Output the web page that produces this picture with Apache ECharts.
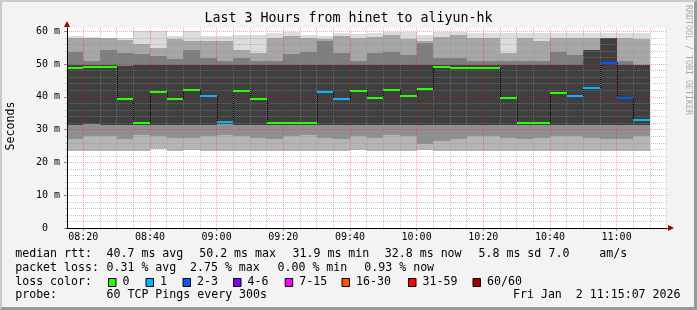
<!DOCTYPE html>
<html><head><meta charset="utf-8">
<script src="https://cdn.jsdelivr.net/npm/echarts@6/dist/echarts.min.js"></script>
<style>
html,body{margin:0;padding:0;background:#f3f3f3;}
#wrap{position:relative;width:697px;height:310px;background:#f3f3f3;}
#chart{position:absolute;left:0;top:0;width:697px;height:310px;}
#frame{position:absolute;left:0;top:0;width:697px;height:310px;box-sizing:border-box;border-top:2px solid #cbcbcb;border-left:2px solid #cbcbcb;border-right:3px solid #999;border-bottom:3px solid #999;pointer-events:none;}
</style></head><body>
<div id="wrap"><div id="chart"></div><div id="frame"></div></div>
<script>
// ---------------- data ----------------
const titleText = 'Last 3 Hours from hinet to aliyun-hk';
const timeRange = ['08:15:07', '11:15:07'];
const xTickLabels = ['08:20','08:40','09:00','09:20','09:40','10:00','10:20','10:40','11:00'];
const yTickValues = [0, 10, 20, 30, 40, 50, 60];
const yMax = 61;
const binMinutes = 5;
const binEnds = ['08:20','08:25','08:30','08:35','08:40','08:45','08:50','08:55',
  '09:00','09:05','09:10','09:15','09:20','09:25','09:30','09:35','09:40','09:45','09:50','09:55',
  '10:00','10:05','10:10','10:15','10:20','10:25','10:30','10:35','10:40','10:45','10:50','10:55',
  '11:00','11:05','11:10'];
const medianRtt = [48.7,49.1,49.1,39.3,32.1,41.5,39.3,42.0,40.2,32.3,41.8,39.3,31.9,31.9,32.1,41.5,39.3,41.8,39.6,42.0,
  40.2,42.4,49.1,48.7,48.7,48.7,39.6,32.1,32.1,41.2,40.2,42.7,50.2,39.6,32.8];
const lostPings = [0,0,0,0,0,0,0,0,1,1,0,0,0,0,0,1,1,0,0,0,0,0,0,0,0,0,0,0,0,0,1,1,2,2,1];
// smoke envelope per bin (ms), band edges from lowest to highest ping quantile
const smokeBot = [23.5,23.5,23.6,23.5,23.6,24.0,23.6,23.8,23.6,23.6,23.5,23.6,23.6,23.6,23.4,23.6,23.5,23.8,23.5,23.6,
  23.6,23.8,23.6,23.6,23.6,23.6,23.6,23.6,23.6,23.6,23.6,23.6,23.5,23.6,23.6];
const smokeLq  = [27.0,28.0,28.0,27.0,28.5,28.0,27.5,27.5,28.0,28.5,28.0,27.5,27.0,28.0,28.5,27.5,27.0,28.0,27.5,28.5,
  28.0,25.5,26.5,27.0,28.0,28.0,27.5,27.0,27.5,28.0,28.0,27.5,27.0,27.0,28.0];
const smokeDlo = [31.5,31.8,31.5,31.5,31.5,31.5,31.5,31.5,31.5,31.8,31.5,31.5,31.5,31.5,31.5,31.5,31.5,31.5,31.5,31.5,
  31.5,31.5,31.5,31.5,31.5,31.5,31.5,31.5,31.5,31.5,31.5,31.5,31.5,31.5,31.5];
const smokeDhi = [49.7,49.7,49.7,49.5,49.8,49.8,49.8,49.8,49.8,49.8,49.8,49.8,49.8,49.8,49.8,49.8,49.8,49.8,49.8,49.8,
  49.8,49.8,49.8,49.8,49.8,49.8,49.8,49.8,49.8,49.8,49.8,54.3,57.9,49.8,49.8];
const smokeUq  = [53.8,51.0,54.3,53.3,53.0,52.5,51.5,54.3,52.0,51.0,52.0,51.0,51.0,53.0,53.8,57.0,53.3,51.0,53.3,53.8,
  52.8,56.5,51.8,51.8,51.0,51.0,51.0,51.0,51.0,53.8,52.8,54.3,57.9,50.8,49.8];
const smokeTop = [57.8,57.8,57.8,57.4,56.0,55.0,57.5,57.0,57.0,57.0,54.3,53.5,57.9,58.5,58.0,57.5,58.5,58.0,58.4,58.8,
  57.5,56.9,58.4,58.8,57.9,57.9,53.3,58.0,57.0,57.9,57.9,57.9,57.9,57.9,57.5];
const smokeCap = [58.5,58.2,58.0,58.0,60.0,60.0,58.5,60.0,58.5,58.5,59.0,59.0,59.5,59.8,59.0,58.5,59.5,59.2,59.5,59.8,
  59.8,59.0,59.8,59.8,59.5,59.5,59.5,59.5,59.5,59.5,59.5,59.5,59.5,59.5,59.5];
const lossUpper  = [0, 1, 3, 6, 15, 30, 59, 60];
const lossLabels = ['0','1','2-3','4-6','7-15','16-30','31-59','60/60'];
const rttNames  = ['avg','max','min','now','sd'];
const rttValues = [40.7, 50.2, 31.9, 32.8, 5.8];
const amPerS = 7.0;
const lossNames  = ['avg','max','min','now'];
const lossValues = [0.31, 2.75, 0.00, 0.93];
const probeText = '60 TCP Pings every 300s';
const dateText = 'Fri Jan  2 11:15:07 2026';

// ---------------- styles ----------------
const lossColors = ['#26ff00','#00b8ff','#0059ff','#7e00ff','#ff00ff','#ff5500','#ff0000','#a00000'];
const smokeColors = ['#b5b5b5','#8f8f8f','#3f3f3f','#7e7e7e','#a7a7a7','#dcdcdc'];
const MONO = 'DejaVu Sans Mono';

function toMin(s){ const p = s.split(':').map(Number); return p[0]*60 + p[1] + (p[2]||0)/60; }
function fmtTime(v){ const h = Math.floor(v/60), m = Math.round(v - h*60); return (h<10?'0':'')+h+':'+(m<10?'0':'')+m; }
function lossIndex(n){ for (let k=0;k<lossUpper.length;k++) if (n <= lossUpper[k]) return k; return lossUpper.length-1; }

const xMin = toMin(timeRange[0]), xMax = toMin(timeRange[1]);
const majorX = xTickLabels.map(toMin);
const minorX = [];
for (let t = majorX[0]; t <= xMax; t += binMinutes) { if (!majorX.some(m => Math.abs(m-t) < 1e-6)) minorX.push(t); }
const minorY = [];
for (let v = 2; v < 60; v += 2) { if (v % 10 !== 0) minorY.push(v); }

const smokeData = binEnds.map((t,i) => [toMin(t)-binMinutes, toMin(t), smokeBot[i], smokeLq[i], smokeDlo[i], smokeDhi[i], smokeUq[i], smokeTop[i], smokeCap[i]]);
const medianData = binEnds.map((t,i) => [toMin(t)-binMinutes, toMin(t), medianRtt[i], lostPings[i], i>0 ? medianRtt[i-1] : medianRtt[i]]);

function csRect(params){ const c = params.coordSys; return {x:c.x, y:c.y, width:c.width, height:c.height}; }

function renderSmoke(params, api){
  const x0 = api.value(0), x1 = api.value(1);
  const lv = [2,3,4,5,6,7,8].map(k => api.value(k));
  const children = [];
  for (let k=0;k<6;k++){
    const a = api.coord([x0, lv[k]]), b = api.coord([x1, lv[k+1]]);
    const xa = Math.round(a[0]), xb = Math.round(b[0]);
    const ya = Math.round(a[1]), yb = Math.round(b[1]);
    const r = echarts.graphic.clipRectByRect({x:xa, y:yb, width:xb-xa, height:ya-yb}, csRect(params));
    if (r && r.height > 0) children.push({type:'rect', shape:r, style:{fill:smokeColors[k]}});
  }
  return {type:'group', children};
}
function renderMedian(params, api){
  const x0 = api.value(0), x1 = api.value(1), m = api.value(2), loss = api.value(3), prev = api.value(4);
  const c = params.coordSys;
  const a = api.coord([x0, m]), b = api.coord([x1, m]);
  const left = Math.max(Math.round(a[0]), c.x), right = Math.min(Math.round(b[0]), c.x + c.width);
  const children = [];
  if (params.dataIndex > 0 && a[0] >= c.x) {
    const p = api.coord([x0, prev]);
    const xl = Math.round(a[0]) + 0.5;
    children.push({type:'line', shape:{x1:xl, y1:Math.round(p[1]), x2:xl, y2:Math.round(a[1])},
      style:{stroke:'#000', lineWidth:1, lineDash:[1,1]}});
  }
  children.push({type:'rect', shape:{x:left, y:Math.round(a[1])-1, width:right-left, height:2},
    style:{fill:lossColors[lossIndex(loss)]}});
  return {type:'group', children};
}

const gridBox = {left:67, top:28, width:600, height:200};
const hidden = {axisLine:{show:false}, axisTick:{show:false}, axisLabel:{show:false}, splitLine:{show:false}};
const minorLine = {show:true, lineStyle:{color:'rgba(140,140,140,0.5)', width:1, type:[1,1]}};
const majorLine = {show:true, lineStyle:{color:'rgba(255,0,0,0.35)', width:1, type:[1,1]}};

// ---------------- legend graphics ----------------
const g = [];
function txt(x, y, s, align){ g.push({type:'text', x, y, silent:true, zlevel:0,
  style:{text:s, fontFamily:MONO, fontSize:11.6, fill:'#000', verticalAlign:'middle', align:align||'left'}}); }
const L1 = 254.3, L2 = 268, L3 = 282, L4 = 295.3;
const rttX = [106.5, 199.2, 292.5, 384.8];
txt(15.2, L1, 'median rtt:');
for (let k=0;k<4;k++) txt(rttX[k], L1, rttValues[k].toFixed(1)+' ms '+rttNames[k]);
txt(478.5, L1, rttValues[4].toFixed(1)+' ms '+rttNames[4]);
txt(548.5, L1, amPerS.toFixed(1));
txt(599.2, L1, 'am/s');
const lossX = [106.5, 190, 277.5, 364.3];
txt(15.2, L2, 'packet loss:');
for (let k=0;k<4;k++) txt(lossX[k], L2, lossValues[k].toFixed(2)+' % '+lossNames[k]);
txt(15.2, L3, 'loss color:');
const boxX = [108, 145.5, 182.5, 233, 284.7, 341.5, 408, 472.5];
for (let k=0;k<lossLabels.length;k++){
  g.push({type:'rect', silent:true, shape:{x:boxX[k]+0.5, y:278.5, width:7.5, height:8},
    style:{fill:lossColors[k], stroke:'#000', lineWidth:1}});
  txt(boxX[k]+14.5, L3, lossLabels[k]);
}
txt(15.2, L4, 'probe:');
txt(106.5, L4, probeText);
txt(680.5, L4, dateText, 'right');
g.push({type:'text', x:11, y:126, rotation:Math.PI/2, silent:true,
  style:{text:'Seconds', fontFamily:MONO, fontSize:11.6, fill:'#000', align:'center', verticalAlign:'middle'}});
g.push({type:'text', x:688.5, y:60, rotation:-Math.PI/2, silent:true,
  style:{text:'RRDTOOL / TOBI OETIKER', fontFamily:MONO, fontSize:8.3, fill:'#ababab', align:'center', verticalAlign:'middle'}});

// ---------------- chart ----------------
const chart = echarts.init(document.getElementById('chart'), null, {renderer:'canvas'});
chart.setOption({
  animation:false,
  backgroundColor:'#f3f3f3',
  title:{text:titleText, left:'center', top:12, padding:0,
    textStyle:{fontFamily:MONO, fontSize:13.3, fontWeight:'normal', color:'#000', lineHeight:14}},
  grid:[
    Object.assign({zlevel:1, z:3}, gridBox),
    Object.assign({zlevel:1, z:2}, gridBox),
    Object.assign({zlevel:2, z:5}, gridBox),
    Object.assign({zlevel:2, z:6}, gridBox),
    Object.assign({show:true, backgroundColor:'#ffffff', borderWidth:0, zlevel:0, z:0}, gridBox)
  ],
  xAxis:[
    {gridIndex:0, type:'value', min:xMin, max:xMax, zlevel:1, z:3,
      axisLine:{show:false},
      axisTick:{show:true, customValues:majorX, length:3, lineStyle:{color:'#e07070'}},
      axisLabel:{show:true, customValues:majorX, formatter:fmtTime, fontFamily:MONO, fontSize:10, color:'#000', margin:4, lineHeight:10},
      splitLine:majorLine},
    {gridIndex:1, type:'value', min:xMin, max:xMax, zlevel:1, z:2,
      axisLine:{show:false}, axisLabel:{show:false},
      axisTick:{show:true, customValues:minorX, length:2, lineStyle:{color:'#c8c8c8'}},
      splitLine:minorLine},
    Object.assign({gridIndex:2, type:'value', min:xMin, max:xMax, zlevel:2, z:5}, hidden,
      {axisLine:{show:true, onZero:false, symbol:['none','triangle'], symbolSize:[6,6], symbolOffset:[0,4], lineStyle:{color:'#a00000', width:1}}}),
    Object.assign({gridIndex:3, type:'value', min:xMin, max:xMax, zlevel:2, z:6}, hidden,
      {axisLine:{show:true, onZero:false, lineStyle:{color:'#000', width:1}}}),
    Object.assign({gridIndex:4, type:'value', min:xMin, max:xMax, zlevel:0, z:0}, hidden)
  ],
  yAxis:[
    {gridIndex:0, type:'value', min:0, max:yMax, zlevel:1, z:3,
      axisLine:{show:false},
      axisTick:{show:true, customValues:yTickValues, length:3, lineStyle:{color:'#888'}},
      axisLabel:{show:true, customValues:yTickValues, formatter:v => v === 0 ? '0  ' : v + ' m', fontFamily:MONO, fontSize:10, color:'#000', margin:7},
      splitLine:majorLine},
    {gridIndex:1, type:'value', min:0, max:yMax, zlevel:1, z:2,
      axisLine:{show:false}, axisLabel:{show:false},
      axisTick:{show:true, customValues:minorY, length:2, lineStyle:{color:'#c8c8c8'}},
      splitLine:minorLine},
    Object.assign({gridIndex:2, type:'value', min:0, max:yMax, zlevel:2, z:5}, hidden,
      {axisLine:{show:true, onZero:false, symbol:['none','triangle'], symbolSize:[6,6], symbolOffset:[0,4], lineStyle:{color:'#a00000', width:1}}}),
    Object.assign({gridIndex:3, type:'value', min:0, max:yMax, zlevel:2, z:6}, hidden,
      {axisLine:{show:true, onZero:false, lineStyle:{color:'#000', width:1}}}),
    Object.assign({gridIndex:4, type:'value', min:0, max:yMax, zlevel:0, z:0}, hidden)
  ],
  series:[
    {type:'custom', name:'smoke', xAxisIndex:0, yAxisIndex:0, zlevel:0, z:1, silent:true, renderItem:renderSmoke, data:smokeData},
    {type:'custom', name:'median', xAxisIndex:0, yAxisIndex:0, zlevel:2, z:4, silent:true, renderItem:renderMedian, data:medianData}
  ],
  graphic:g
});
</script>
</body></html>
